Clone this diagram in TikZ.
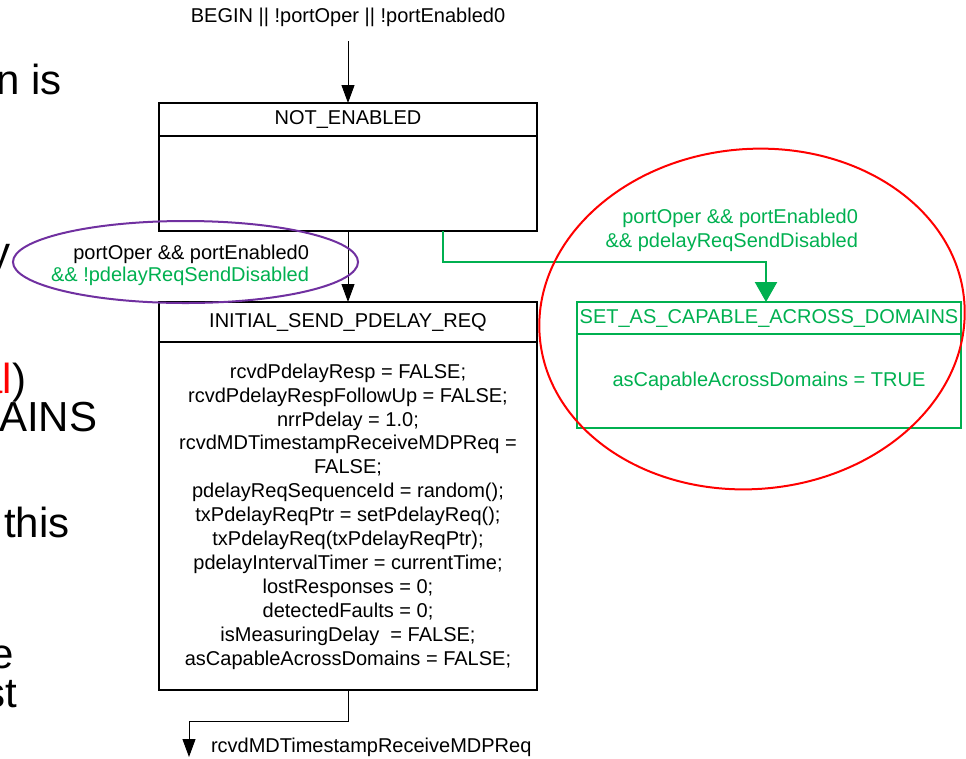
\documentclass[tikz,border=0pt]{standalone}
\usepackage{fontspec}
\setmainfont{Liberation Sans}
\usetikzlibrary{arrows.meta,calc}
\definecolor{stategreen}{RGB}{0,176,80}
\definecolor{notepurple}{RGB}{112,48,160}
\definecolor{notered}{RGB}{255,0,0}

\begin{document}
\begin{tikzpicture}[x=0.75pt,y=-0.75pt,
  every node/.style={font=\fontsize{15}{18}\selectfont, inner sep=0pt, outer sep=0pt},
  statebox/.style={draw, line width=1.5pt, minimum width=283.5pt, inner sep=0pt},
  flow/.style={line width=0.75pt, -{Triangle[width=9.75pt,length=13.5pt]}},
  gflow/.style={draw=stategreen, line width=1.8pt, -{Triangle[width=16.5pt,length=15pt]}},
  slidetext/.style={font=\fontsize{31.5}{34}\selectfont},
  mark ring/.style={line width=1.5pt}]
\clip (0,0) rectangle (966,758);

% slide text behind the state diagram
\node[slidetext, anchor=base east] (fragA) at (62,94) {n is};
\node[slidetext, anchor=base east] (fragB) at (11,266) {y};
\node[slidetext, anchor=base east] (fragC) at (26,393) {\textcolor{notered}{al})};
\node[slidetext, anchor=base west] (fragD) at (-1,431) {AINS};
\node[slidetext, anchor=base west] (fragE) at (4,537) {this};
\node[slidetext, anchor=base east] (fragF) at (14,668) {e};
\node[slidetext, anchor=base east] (fragG) at (17,707) {st};

% NOT_ENABLED
\node[statebox, minimum height=96pt] (ne) at (348,167) {};
\draw[line width=1.5pt] ([yshift=-24.75pt]ne.north west) -- ([yshift=-24.75pt]ne.north east);
\node (netitle) at (348,119) {NOT\_ENABLED};

% INITIAL_SEND_PDELAY_REQ
\node[statebox, minimum height=291pt] (is) at (348,496) {};
\draw[line width=1.5pt] ([yshift=-30pt]is.north west) -- ([yshift=-30pt]is.north east);
\node (istitle) at (348,322) {INITIAL\_SEND\_PDELAY\_REQ};
\node[font=\fontsize{15}{17.93}\selectfont, align=center] (isbody) at (348,516.5) {%
rcvdPdelayResp = FALSE;\\
rcvdPdelayRespFollowUp = FALSE;\\
nrrPdelay = 1.0;\\
rcvdMDTimestampReceiveMDPReq =\\
FALSE;\\
pdelayReqSequenceId = random();\\
txPdelayReqPtr = setPdelayReq();\\
txPdelayReq(txPdelayReqPtr);\\
pdelayIntervalTimer = currentTime;\\
lostResponses = 0;\\
detectedFaults = 0;\\
isMeasuringDelay\ \ = FALSE;\\
asCapableAcrossDomains = FALSE;};

% SET_AS_CAPABLE_ACROSS_DOMAINS
\node[statebox, draw=stategreen, minimum width=288pt, minimum height=94.5pt] (sac) at (769,365) {};
\draw[stategreen, line width=1.5pt] ([yshift=-24pt]sac.north west) -- ([yshift=-24pt]sac.north east);
\node[text=stategreen] (sactitle) at (769,318) {SET\_AS\_CAPABLE\_ACROSS\_DOMAINS};
\node[text=stategreen] (sacbody) at (769,381) {asCapableAcrossDomains = TRUE};

% entry transition
\node (begin) at (348,17) {BEGIN || !portOper || !portEnabled0};
\coordinate (entry) at (348,41);
\draw[flow] (entry) -- (ne.north);

% NOT_ENABLED -> INITIAL_SEND_PDELAY_REQ
\draw[flow] (ne.south) -- (is.north);
\node[align=right, anchor=east, font=\fontsize{15}{16.5}\selectfont] (cond1) at (309,265)
  {portOper \&\& portEnabled0\\ \textcolor{stategreen}{\&\& !pdelayReqSendDisabled}};

% NOT_ENABLED -> SET_AS_CAPABLE_ACROSS_DOMAINS
\coordinate (g0) at (443,231);
\coordinate (g1) at (766,262);
\draw[gflow] (g0) |- (g1) -- (g1 |- sac.north);
\node[align=right, anchor=east, text=stategreen] (cond2) at (858,230)
  {portOper \&\& portEnabled0\\ \&\& pdelayReqSendDisabled};

% exit transition
\coordinate (x1) at (189,757);
\draw[flow] (is.south) |- ($(x1)+(0,-36)$) -- (x1);
\node[anchor=west] (exitlbl) at (211,747) {rcvdMDTimestampReceiveMDPReq};

% highlight rings
\draw[notepurple, mark ring] (185.5,262) ellipse [x radius=129.4pt, y radius=30.75pt];
\draw[notered, mark ring] (752,319) ellipse [x radius=159.75pt, y radius=127.5pt, rotate=5];
\end{tikzpicture}
\end{document}
